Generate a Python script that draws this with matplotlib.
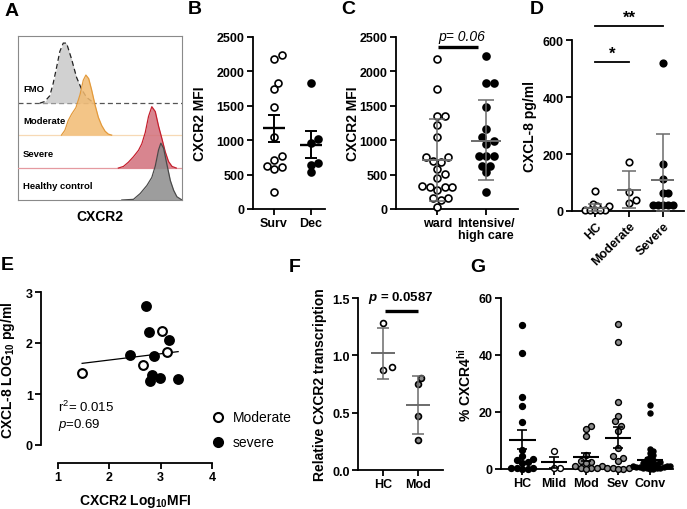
import numpy as np
import matplotlib.pyplot as plt
from matplotlib.lines import Line2D

plt.rcParams['font.family'] = 'Liberation Sans'
plt.rcParams['font.weight'] = 'bold'
plt.rcParams['mathtext.fontset'] = 'custom'
plt.rcParams['mathtext.rm'] = 'Liberation Sans:weight=normal'
plt.rcParams['mathtext.it'] = 'Liberation Sans:style=italic:weight=normal'
plt.rcParams['mathtext.bf'] = 'Liberation Sans:weight=bold'
plt.rcParams['mathtext.bfit'] = 'Liberation Sans:style=italic:weight=bold'

# ---- panel A: histogram outlines (x position, height in lane units)
fmo_x = [13.3, 16.3, 19.4, 21.4, 23.5, 25.5, 27.6, 29.6, 32.7, 35.7, 38.8, 41.8, 45.9]
fmo_h = [0, 0.05, 0.23, 0.6, 1.1, 1.6, 1.86, 1.86, 1.36, 0.8, 0.43, 0.18, 0.02]
modh_x = [26.5, 28.6, 30.6, 32.7, 35.3, 37.8, 39.8, 41.4, 43.1, 44.9, 46.9, 49.0, 51.0, 53.1, 55.1, 57.1]
modh_h = [0, 0.15, 0.45, 0.65, 0.85, 1.25, 1.7, 1.86, 1.75, 1.4, 0.95, 0.55, 0.3, 0.12, 0.03, 0]
sevh_x = [61.2, 64.3, 67.3, 70.4, 73.5, 75.5, 77.6, 79.6, 81.6, 83.7, 85.7, 87.8, 89.8, 91.8, 93.9, 96.5]
sevh_h = [0, 0.05, 0.18, 0.35, 0.55, 0.75, 1.1, 1.6, 1.9, 1.75, 1.3, 0.9, 0.5, 0.2, 0.05, 0]
hch_x = [63.3, 70.4, 74.5, 78.6, 81.6, 83.7, 85.7, 87.1, 88.8, 90.8, 92.9, 94.9, 96.9, 100]
hch_h = [0, 0.02, 0.2, 0.45, 0.7, 1.05, 1.55, 1.76, 1.6, 1.1, 0.6, 0.3, 0.1, 0]

# ---- panel B
surv_mfi = [2233, 2184, 1835, 1738, 1481, 1044, 777, 714, 631, 617, 583, 252]
dec_mfi = [1830, 1019, 956, 670, 646, 534]
b_mean = [1180, 937]
b_lo = [971, 748]
b_hi = [1369, 1131]

# ---- panel C
ward_mfi = [2184, 1738, 1359, 1350, 1228, 1044, 752, 752, 694, 680, 583, 510,
            451, 330, 316, 316, 316, 282, 160, 160, 131, 34]
icu_mfi = [2224, 1830, 1830, 1481, 1165, 1044, 995, 947, 777, 777, 777, 631, 631, 534, 252]
c_mean = [714, 995]
c_lo = [120, 422]
c_hi = [1311, 1587]

# ---- panel D
hc_il8 = [71, 25, 17, 16, 4, 4, 3, 2, 2]
mod_il8 = [171, 68, 40, 27]
sev_il8 = [520, 165, 112, 62, 62, 21, 21, 21, 21, 21]
d_mean = [12, 75, 109]
d_lo = [0, 9, 0]
d_hi = [25, 139, 271]

# ---- panel E
e_mod_x = [1.47, 2.66, 3.02, 3.13]
e_mod_y = [1.41, 1.57, 2.24, 1.83]
e_sev_x = [2.71, 2.78, 3.17, 2.41, 2.87, 2.84, 2.79, 2.98, 3.34]
e_sev_y = [2.73, 2.22, 2.05, 1.76, 1.75, 1.38, 1.26, 1.32, 1.30]
fit_slope = 0.123
fit_icept = 1.42

# ---- panel F
hc_rel = [1.28, 0.87, 0.90]
mod_rel = [0.80, 0.75, 0.47, 0.26]
f_mean = [1.02, 0.57]
f_lo = [0.79, 0.31]
f_hi = [1.24, 0.82]

# ---- panel G
g_hc = [50.4, 40.8, 25.1, 22.0, 16.4, 6.8, 4.4, 3.5, 3.0, 2.6, 2.0, 0.3, 0.2, 0.2, 0.1, 0.0]
g_mild = [6.2, 0.5, 0.5]
g_mod = [15.2, 14.0, 11.5, 4.9, 2.9, 2.5, 2.1, 1.2, 1.2, 0.5, 0.3, 0.2, 0.1]
g_sev = [50.8, 44.5, 23.4, 18.7, 16.7, 15.2, 13.4, 7.3, 4.4, 3.7, 2.9, 0.3, 0.2, 0.2, 0.1, 0.0]
g_conv = [22.5, 19.8, 7.0, 6.2, 5.5, 4.8, 4.2, 3.6, 3.2, 2.8, 2.4, 2.0, 1.8, 1.6, 1.5, 1.3,
          1.1, 1.0, 0.9, 0.8, 0.7, 0.6, 0.5, 0.4, 0.3, 0.2, 0.1, 0.1]
g_labels = ['HC', 'Mild', 'Mod', 'Sev', 'Conv']
g_mean = [10.3, 2.4, 4.2, 11.0, 3.1]
g_lo = [7.0, 0.5, 2.9, 7.4, 2.4]
g_hi = [13.7, 4.3, 5.5, 14.6, 3.8]

W, H = 687, 510
TICK = 9
LAB = 10
fig = plt.figure(figsize=(6.87, 5.10), dpi=100)


def px_axes(x0, y0, x1, y1):
    return fig.add_axes([x0 / W, 1 - y1 / H, (x1 - x0) / W, (y1 - y0) / H])


def style(ax):
    for s in ['top', 'right']:
        ax.spines[s].set_visible(False)
    for s in ['left', 'bottom']:
        ax.spines[s].set_linewidth(1.3)
    ax.tick_params(width=1.3, length=4, labelsize=TICK, pad=2)


def swarm(ax, xc, vals, d_px):
    vals = np.asarray(vals, float)
    pix = ax.transData.transform(np.column_stack([np.full(len(vals), xc), vals]))
    x0 = pix[0, 0]
    steps = [0.0]
    for k in range(1, 60):
        steps += [k * d_px / 2, -k * d_px / 2]
    placed = []
    off = np.zeros(len(vals))
    for i in np.argsort(vals, kind='stable'):
        y = pix[i, 1]
        for o in steps:
            if all((o - px) ** 2 + (y - py) ** 2 >= (0.98 * d_px) ** 2 for px, py in placed):
                break
        placed.append((o, y))
        off[i] = o
    back = ax.transData.inverted().transform(np.column_stack([x0 + off, pix[:, 1]]))
    return back[:, 0]


def dots(ax, xc, vals, face, s, d_px, lw=1.2):
    xs = swarm(ax, xc, vals, d_px)
    ax.scatter(xs, vals, s=s, facecolor=face, edgecolor='black', linewidth=lw,
               zorder=3, clip_on=False)


def summary(ax, xc, mean, lo, hi, half, color, lw, cap):
    ax.errorbar([xc], [mean], yerr=[[mean - lo], [hi - mean]], fmt='none', ecolor=color,
                elinewidth=lw, capsize=cap, capthick=lw, zorder=4)
    ax.plot([xc - half, xc + half], [mean, mean], color=color, lw=lw + 0.3, zorder=4,
            solid_capstyle='butt')


def letter(x, y, s):
    fig.text(x / W, 1 - y / H, s, fontsize=14, fontweight='bold', ha='left', va='center')


def ylab(x, y, s, size=LAB):
    fig.text(x / W, 1 - y / H, s, rotation=90, fontsize=size, fontweight='bold',
             ha='center', va='center')


# ================= A
axA = px_axes(18, 37, 182, 201)
axA.set_xlim(0, 100)
axA.set_ylim(0, 5.08)
axA.set_xticks([])
axA.set_yticks([])
for s in axA.spines.values():
    s.set_color('#8a8a8a')
    s.set_linewidth(0.8)
lanes = [
    ('FMO', 3.0, fmo_x, fmo_h, '#c9c9c9', '#222222', (0, (4, 2.5)), '#555555'),
    ('Moderate', 2.01, modh_x, modh_h, '#f2bb72', '#e39a3b', '-', '#f7d9b5'),
    ('Severe', 0.99, sevh_x, sevh_h, '#d2707b', '#c41f2d', '-', '#e59aa0'),
    ('Healthy control', 0.0, hch_x, hch_h, '#8c8c8c', '#4a4a4a', '-', None),
]
for i, (name, base, xs, hs, fc, ec, ls, basec) in enumerate(lanes):
    if basec is not None:
        axA.axhline(base, color=basec, lw=0.9, ls=ls, zorder=1 + i)
    ys = base + np.asarray(hs)
    axA.fill_between(xs, base, ys, color=fc, alpha=0.85, lw=0, zorder=2 + i)
    axA.plot(xs, ys, color=ec, lw=0.9, ls=ls, zorder=2 + i)
    axA.text(3, base + 0.44, name, fontsize=6.8, fontweight='bold', va='center', ha='left',
             zorder=10)
fig.text(100 / W, 1 - 217 / H, 'CXCR2', fontsize=LAB, fontweight='bold', ha='center',
         va='center')

# ================= B
axB = px_axes(253, 38, 325, 210)
style(axB)
axB.set_xlim(-0.57, 1.38)
axB.set_ylim(0, 2500)
axB.set_yticks([0, 500, 1000, 1500, 2000, 2500])
axB.set_xticks([0, 1])
axB.set_xticklabels(['Surv', 'Dec'])
dots(axB, 0, surv_mfi, 'white', 25, 7.5)
dots(axB, 1, dec_mfi, 'black', 25, 7.5)
for i in range(2):
    summary(axB, i, b_mean[i], b_lo[i], b_hi[i], 0.29, 'black', 1.4, 4.2)
ylab(200, 124, 'CXCR2 MFI')

# ================= C
axC = px_axes(396, 38, 518, 210)
style(axC)
axC.set_xlim(-0.84, 1.65)
axC.set_ylim(0, 2500)
axC.set_yticks([0, 500, 1000, 1500, 2000, 2500])
axC.set_xticks([0, 1])
axC.set_xticklabels(['ward', 'Intensive/\nhigh care'], linespacing=1.0)
dots(axC, 0, ward_mfi, 'white', 25, 7.5)
dots(axC, 1, icu_mfi, 'black', 25, 7.5)
for i in range(2):
    summary(axC, i, c_mean[i], c_lo[i], c_hi[i], 0.3, '#6b6b6b', 1.1, 6)
axC.plot([0.02, 0.84], [2355, 2355], color='black', lw=2.4, clip_on=False,
         solid_capstyle='butt')
axC.text(0.51, 2515, 'p= 0.06', fontsize=LAB, fontstyle='italic', fontweight='normal',
         ha='center', va='center')
ylab(353, 124, 'CXCR2 MFI')

# ================= D
axD = px_axes(572, 41, 684, 212)
style(axD)
axD.set_xlim(-0.68, 2.62)
axD.set_ylim(0, 600)
axD.set_yticks([0, 200, 400, 600])
axD.set_xticks([0, 1, 2])
axD.set_xticklabels(['HC', 'Moderate', 'Severe'], rotation=45, ha='right',
                    rotation_mode='anchor')
dots(axD, 0, hc_il8, 'white', 22, 4.8)
dots(axD, 1, mod_il8, 'white', 22, 6.8)
dots(axD, 2, sev_il8, 'black', 22, 5.2)
for i in range(3):
    summary(axD, i, d_mean[i], d_lo[i], d_hi[i], 0.34, '#6b6b6b', 1.1, 4.8)
axD.plot([0, 2], [649, 649], color='black', lw=1.3, clip_on=False)
axD.plot([0, 1], [523, 523], color='black', lw=1.3, clip_on=False)
axD.text(1, 652, '**', fontsize=12, ha='center', va='bottom')
axD.text(0.5, 526, '*', fontsize=12, ha='center', va='bottom')
ylab(530, 126, 'CXCL-8 pg/ml')

# ================= E
axE = px_axes(58, 293, 212, 446)
style(axE)
axE.spines['left'].set_position(('outward', 12))
axE.spines['bottom'].set_position(('outward', 13))
axE.set_xlim(1, 4)
axE.set_ylim(0, 3)
axE.set_xticks([1, 2, 3, 4])
axE.set_yticks([0, 1, 2, 3])
fx = np.array([min(e_mod_x + e_sev_x), max(e_mod_x + e_sev_x)])
axE.plot(fx, fit_icept + fit_slope * fx, color='black', lw=0.9, zorder=2)
axE.scatter(e_mod_x, e_mod_y, s=40, facecolor='white', edgecolor='black', linewidth=1.5,
            zorder=3)
axE.scatter(e_sev_x, e_sev_y, s=40, facecolor='black', edgecolor='black', linewidth=1.5,
            zorder=3)
axE.text(1.0, 0.67, r'r$^2$= 0.015', fontsize=9.5, fontweight='normal', va='baseline')
axE.text(1.0, 0.35, r'$p$=0.69', fontsize=9.5, fontweight='normal', va='baseline')
ylab(8, 370, r'CXCL-8 LOG$_{\mathbf{10}}$ pg/ml')
fig.text(135 / W, 1 - 502 / H, r'CXCR2 Log$_{\mathbf{10}}$MFI', fontsize=LAB,
         fontweight='bold', ha='center', va='center')
for yy, fc, name in [(418, 'white', 'Moderate'), (443, 'black', 'severe')]:
    fig.add_artist(Line2D([218 / W], [1 - yy / H], marker='o', markersize=6.5,
                          markerfacecolor=fc, markeredgecolor='black', markeredgewidth=1.5,
                          linestyle='none', transform=fig.transFigure))
    fig.text(233 / W, 1 - yy / H, name, fontsize=LAB, fontweight='normal', va='center')

# ================= F
axF = px_axes(358, 299, 443, 471)
style(axF)
axF.set_xlim(-0.71, 1.71)
axF.set_ylim(0, 1.5)
axF.set_yticks([0.0, 0.5, 1.0, 1.5])
axF.set_yticklabels(['0.0', '0.5', '1.0', '1.5'])
axF.set_xticks([0, 1])
axF.set_xticklabels(['HC', 'Mod'])
dots(axF, 0, hc_rel, 'white', 18, 9)
dots(axF, 1, mod_rel, '#8c8c8c', 18, 6.5)
for i in range(2):
    summary(axF, i, f_mean[i], f_lo[i], f_hi[i], 0.33, '#6b6b6b', 1.1, 4.2)
axF.plot([0.06, 1.0], [1.386, 1.386], color='black', lw=2.4, clip_on=False,
         solid_capstyle='butt')
axF.text(0.5, 1.51, r'$\mathbfit{p}$ = 0.0587', fontsize=9.5, ha='center', va='center')
ylab(320, 385, 'Relative CXCR2 transcription')

# ================= G
axG = px_axes(501, 299, 673, 470)
style(axG)
axG.set_xlim(-0.66, 4.72)
axG.set_ylim(0, 60)
axG.set_yticks([0, 20, 40, 60])
axG.set_xticks(range(5))
axG.set_xticklabels(g_labels)
g_sets = [(g_hc, 'black', 18, 5.4), (g_mild, 'white', 18, 6.2), (g_mod, '#8c8c8c', 18, 5.4),
          (g_sev, '#8c8c8c', 18, 5.4), (g_conv, 'black', 13, 3.4)]
for i, (vals, fc, s, d) in enumerate(g_sets):
    dots(axG, i, vals, fc, s, d, lw=1.0)
for i in range(5):
    summary(axG, i, g_mean[i], g_lo[i], g_hi[i], 0.42, 'black', 1.2, 3.6)
ylab(465, 385, r'% CXCR4$^{\mathbf{hi}}$')

letter(5, 12, 'A')
letter(188, 10, 'B')
letter(341, 10, 'C')
letter(530, 10, 'D')
letter(1, 265, 'E')
letter(289, 268, 'F')
letter(470, 267, 'G')

fig.savefig('out.png', dpi=100)
